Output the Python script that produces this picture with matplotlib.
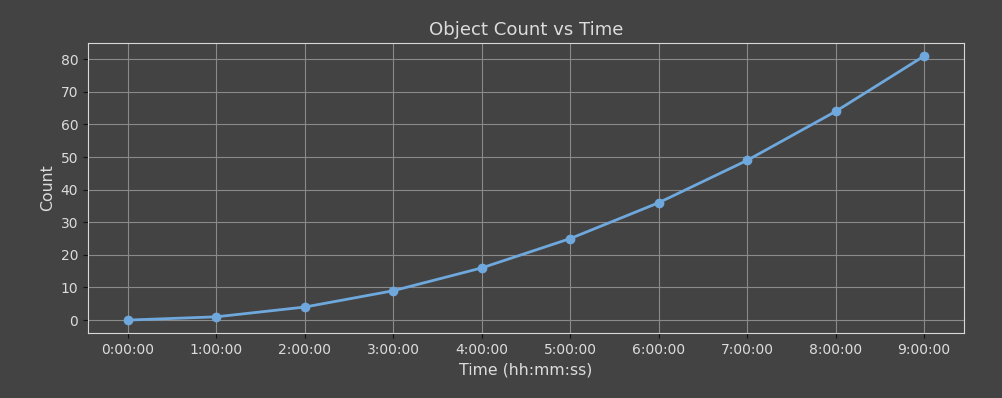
import matplotlib
matplotlib.use("Agg")
import matplotlib.pyplot as plt

times = ["0:00:00", "1:00:00", "2:00:00", "3:00:00", "4:00:00",
         "5:00:00", "6:00:00", "7:00:00", "8:00:00", "9:00:00"]
counts = [0, 1, 4, 9, 16, 25, 36, 49, 64, 81]

bg = "#434343"
fg = "#dcdcdc"

fig = plt.figure(figsize=(10.02, 3.98), dpi=100, facecolor=bg)
ax = fig.add_axes([0.0878, 0.163, 0.8742, 0.729])
ax.set_facecolor(bg)

x = list(range(len(times)))
ax.plot(x, counts, color="#6fa8dc", linewidth=2, marker="o", markersize=6)

ax.set_xticks(x)
ax.set_xticklabels(times)
ax.set_yticks(range(0, 81, 10))
ax.set_ylim(-4, 85)
ax.set_xlim(-0.45, 9.45)

ax.grid(True, color="#8a8a8a", linewidth=0.8)
ax.set_axisbelow(True)
for s in ax.spines.values():
    s.set_color("#d8d8d8")
ax.tick_params(colors="#111111", labelcolor=fg, labelsize=10)

ax.set_title("Object Count vs Time", color=fg, fontsize=13.1)
ax.set_xlabel("Time (hh:mm:ss)", color=fg, fontsize=11.3)
ax.set_ylabel("Count", color=fg, fontsize=11.3)

fig.savefig("out.png", dpi=100, facecolor=bg)
